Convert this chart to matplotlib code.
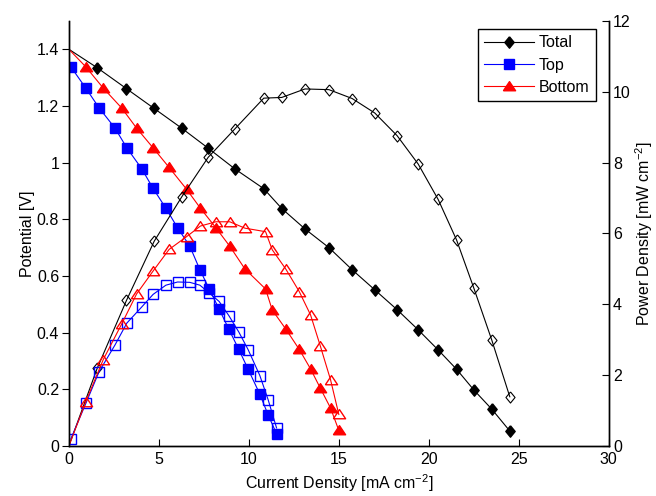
import matplotlib.pyplot as plt

plt.rcParams['font.family'] = ['Liberation Sans', 'DejaVu Sans']
plt.rcParams['mathtext.fontset'] = 'custom'
plt.rcParams['mathtext.rm'] = 'Liberation Sans'
plt.rcParams['mathtext.it'] = 'Liberation Sans'

# Total cell (first point at j=0 has no marker)
tot_j = [0, 1.57, 3.2, 4.74, 6.28, 7.74, 9.22, 10.83, 11.83, 13.12, 14.45,
         15.74, 17.0, 18.24, 19.41, 20.52, 21.54, 22.5, 23.5, 24.5]
tot_v = [1.40, 1.335, 1.261, 1.191, 1.121, 1.051, 0.978, 0.908, 0.838, 0.766, 0.70,
         0.622, 0.551, 0.481, 0.41, 0.339, 0.271, 0.198, 0.13, 0.053]
tot_p = [0, 2.19, 4.11, 5.78, 7.04, 8.15, 8.95, 9.82, 9.84, 10.08, 10.06,
         9.81, 9.4, 8.76, 7.96, 6.96, 5.82, 4.46, 2.99, 1.39]

# Top cell
top_j = [0.11, 0.94, 1.68, 2.56, 3.22, 4.04, 4.68, 5.39, 6.04, 6.72,
         7.28, 7.80, 8.35, 8.89, 9.44, 9.96, 10.61, 11.07, 11.54]
top_v = [1.338, 1.263, 1.193, 1.122, 1.052, 0.979, 0.909, 0.839, 0.77, 0.705,
         0.622, 0.554, 0.483, 0.412, 0.341, 0.271, 0.183, 0.11, 0.043]
top_p = [0.2, 1.2, 2.1, 2.85, 3.47, 3.92, 4.28, 4.54, 4.63, 4.62,
         4.54, 4.32, 4.08, 3.68, 3.22, 2.72, 1.99, 1.31, 0.51]

# Bottom cell (first point at j=0 has no marker)
bot_j = [0, 0.94, 1.91, 2.93, 3.76, 4.68, 5.57, 6.54, 7.31, 8.17, 8.94,
         9.78, 10.93, 11.3, 12.06, 12.8, 13.43, 13.98, 14.54, 15.0]
bot_v = [1.40, 1.338, 1.263, 1.193, 1.122, 1.052, 0.983, 0.906, 0.839, 0.77, 0.705,
         0.625, 0.554, 0.48, 0.412, 0.341, 0.272, 0.203, 0.134, 0.055]
bot_p = [0, 1.25, 2.44, 3.44, 4.29, 4.94, 5.55, 5.91, 6.21, 6.33, 6.33,
         6.15, 6.05, 5.54, 4.99, 4.36, 3.7, 2.81, 1.87, 0.89]

diamond = [(0, 1), (0.82, 0), (0, -1), (-0.82, 0), (0, 1)]
triangle = [(-1, -0.7), (1, -0.7), (0, 0.8), (-1, -0.7)]
lw = 0.8
fs = 11.5

fig = plt.figure(figsize=(6.56, 4.96), dpi=100)
ax = fig.add_axes([0.105, 0.1008, 0.823, 0.857])
ax2 = ax.twinx()

# potential curves
l_tot, = ax.plot(tot_j, tot_v, color='k', lw=lw, marker=diamond, ms=8.2,
                 mfc='k', mec='k', markevery=slice(1, None))
l_top, = ax.plot(top_j, top_v, color='b', lw=lw, marker='s', ms=7,
                 mfc='b', mec='b')
l_bot, = ax.plot(bot_j, bot_v, color='r', lw=lw, marker=triangle, ms=8.8,
                 mfc='r', mec='r', markevery=slice(1, None))

# power density curves
ax2.plot(tot_j, tot_p, color='k', lw=lw, marker=diamond, ms=8, mfc='none',
         mec='k', mew=0.8, markevery=slice(1, None))
ax2.plot(top_j, top_p, color='b', lw=lw, marker='s', ms=7, mfc='none',
         mec='b', mew=1.0)
ax2.plot(bot_j, bot_p, color='r', lw=lw, marker=triangle, ms=8.8, mfc='none',
         mec='r', mew=1.0, markevery=slice(1, None))

ax.set_xlim(0, 30)
ax.set_ylim(0, 1.5)
ax2.set_ylim(0, 12)
ax.set_xticks([0, 5, 10, 15, 20, 25, 30])
ax.set_yticks([0, 0.2, 0.4, 0.6, 0.8, 1.0, 1.2, 1.4])
ax.set_yticklabels(['0', '0.2', '0.4', '0.6', '0.8', '1', '1.2', '1.4'])
ax2.set_yticks([0, 2, 4, 6, 8, 10, 12])

for a in (ax, ax2):
    a.spines['top'].set_visible(False)
    for s in a.spines.values():
        s.set_linewidth(1.0)
ax.tick_params(axis='x', direction='in', length=5, labelsize=fs, pad=4)
ax.tick_params(axis='y', direction='out', length=5, labelsize=fs, pad=2)
ax2.tick_params(axis='y', direction='in', length=5, labelsize=fs, pad=3)

ax.set_xlabel('Current Density [mA cm$^{-2}$]', fontsize=fs, labelpad=4)
ax.set_ylabel('Potential [V]', fontsize=fs, labelpad=1)
ax2.set_ylabel('Power Density [mW cm$^{-2}$]', fontsize=fs, labelpad=2)

leg = ax2.legend([l_tot, l_top, l_bot], ['Total', 'Top', 'Bottom'],
                 loc='upper right', bbox_to_anchor=(0.976, 0.981),
                 fontsize=fs, frameon=True, fancybox=False, framealpha=1,
                 edgecolor='k', handlelength=3.1, handletextpad=0.3,
                 labelspacing=0.45, borderpad=0.4, borderaxespad=0)
leg.get_frame().set_linewidth(1.0)

fig.savefig('out.png', dpi=100)
